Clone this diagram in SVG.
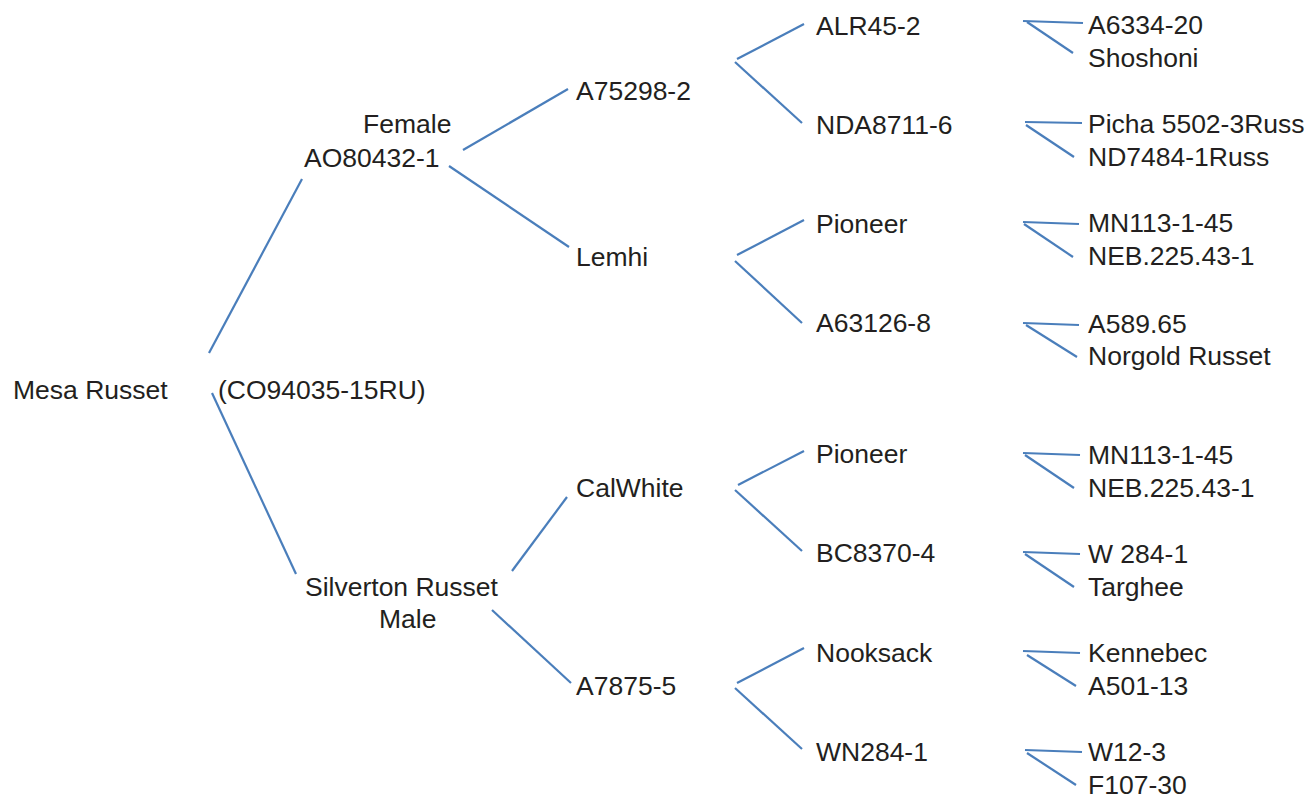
<svg xmlns="http://www.w3.org/2000/svg" width="1309" height="798" viewBox="0 0 1309 798">
<style>
text{font-family:"Liberation Sans",Arial,sans-serif;font-size:26.5px;fill:#231f20}
.c line{stroke:#4a7ebb;stroke-width:2.2;fill:none}
</style>
<rect width="1309" height="798" fill="#fff"/>
<g class="c" id="connectors">
<line x1="209" y1="353" x2="302" y2="179"/>
<line x1="212" y1="393" x2="296" y2="574"/>
<line x1="463" y1="150" x2="568" y2="89"/>
<line x1="449" y1="166" x2="569" y2="247"/>
<line x1="512" y1="571" x2="567" y2="497"/>
<line x1="492" y1="610" x2="571" y2="683"/>
<line x1="737" y1="59" x2="804" y2="24"/>
<line x1="735" y1="62" x2="802" y2="123"/>
<line x1="737" y1="255" x2="804" y2="220"/>
<line x1="735" y1="261" x2="802" y2="323"/>
<line x1="738" y1="485" x2="804" y2="451"/>
<line x1="735" y1="490" x2="802" y2="551"/>
<line x1="737" y1="683" x2="804" y2="648"/>
<line x1="735" y1="688" x2="802" y2="749"/>
<line x1="1023" y1="21" x2="1083" y2="23"/>
<line x1="1027" y1="22" x2="1073" y2="53"/>
<line x1="1025" y1="122" x2="1082" y2="123"/>
<line x1="1026" y1="125" x2="1074" y2="157"/>
<line x1="1023" y1="222" x2="1079" y2="224"/>
<line x1="1024" y1="224" x2="1073" y2="257"/>
<line x1="1023" y1="323" x2="1079" y2="325"/>
<line x1="1026" y1="325" x2="1077" y2="357"/>
<line x1="1023" y1="453" x2="1080" y2="455"/>
<line x1="1025" y1="455" x2="1074" y2="488"/>
<line x1="1023" y1="552" x2="1080" y2="554"/>
<line x1="1025" y1="554" x2="1074" y2="587"/>
<line x1="1023" y1="651" x2="1080" y2="653"/>
<line x1="1027" y1="655" x2="1076" y2="686"/>
<line x1="1025" y1="750" x2="1082" y2="752"/>
<line x1="1027" y1="753" x2="1076" y2="785"/>
</g>
<g id="n-root"><text x="13" y="399">Mesa Russet</text><text x="218" y="399">(CO94035-15RU)</text></g>
<g id="n-female"><text x="363" y="133">Female</text><text x="304" y="167">AO80432-1</text></g>
<g id="n-male"><text x="305" y="596">Silverton Russet</text><text x="379" y="628">Male</text></g>
<g id="n-a75298"><text x="576" y="100">A75298-2</text></g>
<g id="n-lemhi"><text x="576" y="266">Lemhi</text></g>
<g id="n-calwhite"><text x="576" y="497">CalWhite</text></g>
<g id="n-a7875"><text x="576" y="695">A7875-5</text></g>
<g id="n-alr45"><text x="816" y="35">ALR45-2</text></g>
<g id="n-nda8711"><text x="816" y="134">NDA8711-6</text></g>
<g id="n-pioneer1"><text x="816" y="233">Pioneer</text></g>
<g id="n-a63126"><text x="816" y="332">A63126-8</text></g>
<g id="n-pioneer2"><text x="816" y="463">Pioneer</text></g>
<g id="n-bc8370"><text x="816" y="562">BC8370-4</text></g>
<g id="n-nooksack"><text x="816" y="662">Nooksack</text></g>
<g id="n-wn284"><text x="816" y="761">WN284-1</text></g>
<g id="n-p1"><text x="1088" y="34">A6334-20</text><text x="1088" y="67">Shoshoni</text></g>
<g id="n-p2"><text x="1088" y="133">Picha 5502-3Russ</text><text x="1088" y="166">ND7484-1Russ</text></g>
<g id="n-p3"><text x="1088" y="232">MN113-1-45</text><text x="1088" y="265">NEB.225.43-1</text></g>
<g id="n-p4"><text x="1088" y="333">A589.65</text><text x="1088" y="365">Norgold Russet</text></g>
<g id="n-p5"><text x="1088" y="464">MN113-1-45</text><text x="1088" y="497">NEB.225.43-1</text></g>
<g id="n-p6"><text x="1088" y="563">W 284-1</text><text x="1088" y="596">Targhee</text></g>
<g id="n-p7"><text x="1088" y="662">Kennebec</text><text x="1088" y="695">A501-13</text></g>
<g id="n-p8"><text x="1088" y="761">W12-3</text><text x="1088" y="794">F107-30</text></g>
</svg>
